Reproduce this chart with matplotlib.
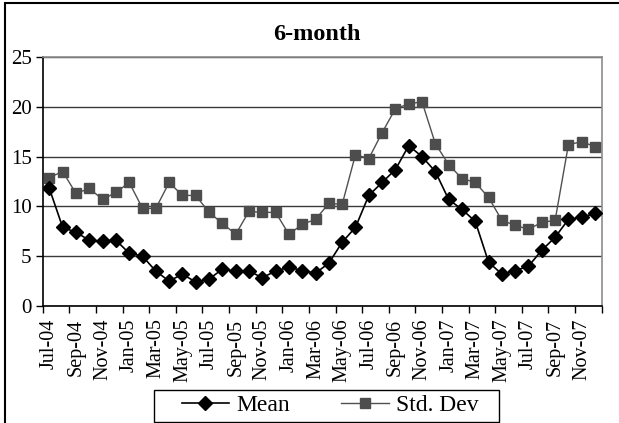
import numpy as np
import matplotlib
matplotlib.use("Agg")
import matplotlib.pyplot as plt
from matplotlib.patches import Rectangle

plt.rcParams['font.family'] = ['Liberation Serif', 'DejaVu Serif']

months = ['Jul-04', 'Aug-04', 'Sep-04', 'Oct-04', 'Nov-04', 'Dec-04',
          'Jan-05', 'Feb-05', 'Mar-05', 'Apr-05', 'May-05', 'Jun-05',
          'Jul-05', 'Aug-05', 'Sep-05', 'Oct-05', 'Nov-05', 'Dec-05',
          'Jan-06', 'Feb-06', 'Mar-06', 'Apr-06', 'May-06', 'Jun-06',
          'Jul-06', 'Aug-06', 'Sep-06', 'Oct-06', 'Nov-06', 'Dec-06',
          'Jan-07', 'Feb-07', 'Mar-07', 'Apr-07', 'May-07', 'Jun-07',
          'Jul-07', 'Aug-07', 'Sep-07', 'Oct-07', 'Nov-07', 'Dec-07']

mean = [11.8, 7.9, 7.4, 6.6, 6.5, 6.6, 5.3, 5.0, 3.5, 2.5, 3.2, 2.4,
        2.7, 3.7, 3.5, 3.5, 2.85, 3.5, 3.9, 3.55, 3.3, 4.3, 6.4, 7.9,
        11.1, 12.4, 13.7, 16.1, 15.0, 13.5, 10.7, 9.7, 8.5, 4.4, 3.2, 3.55,
        4.0, 5.6, 6.9, 8.7, 8.9, 9.3]

std = [12.9, 13.5, 11.3, 11.8, 10.7, 11.4, 12.4, 9.8, 9.8, 12.4, 11.1, 11.1,
       9.4, 8.3, 7.2, 9.5, 9.4, 9.4, 7.2, 8.2, 8.7, 10.3, 10.2, 15.2,
       14.8, 17.4, 19.8, 20.3, 20.5, 16.3, 14.2, 12.8, 12.4, 10.9, 8.6, 8.1,
       7.7, 8.4, 8.6, 16.2, 16.5, 16.0]

W, H = 619, 423
fig = plt.figure(figsize=(W / 100, H / 100), dpi=100)
ax = fig.add_axes([42.7 / W, 1 - 306 / H, (601.7 - 42.7) / W, (306 - 57) / H])

x = np.arange(len(months))
ax.plot(x, mean, color='black', lw=1.2, marker='D', ms=7.5,
        mfc='black', mec='black', label='Mean', zorder=4)
ax.plot(x, std, color='#505050', lw=1.0, marker='s', ms=7.5,
        mfc='#4d4d4d', mec='#4d4d4d', label='Std. Dev', zorder=3)

ax.set_xlim(-0.5, len(months) - 0.5)
ax.set_ylim(0, 25)
ax.set_yticks(np.arange(0, 26, 5))
ax.yaxis.grid(True, color='#3a3a3a', lw=1.0)
ax.set_axisbelow(True)

# tick marks on category boundaries, labels on every other month
ax.set_xticks(np.arange(-0.5, len(months), 2))
ax.set_xticklabels([])
ax.set_xticks(x[::2], minor=True)
ax.set_xticklabels(months[::2], minor=True, rotation=90, fontsize=14.5)
ax.tick_params(axis='x', which='major', direction='out', length=5, width=1, color='black')
ax.tick_params(axis='x', which='minor', length=0, pad=9)
ax.tick_params(axis='y', direction='out', length=5, width=1, labelsize=15, pad=3)

for side in ['left', 'bottom']:
    ax.spines[side].set_color('black')
    ax.spines[side].set_linewidth(1.2)
for side in ['top', 'right']:
    ax.spines[side].set_color('#8c8c8c')
    ax.spines[side].set_linewidth(1.2)

fig.text(316.7 / W, 1 - 35 / H, '6-month', ha='center', va='center',
         fontsize=17.5, fontweight='bold')

# legend box drawn separately (Excel style padding)
fig.patches.append(Rectangle((154 / W, 1 - 421.5 / H), (499 - 154) / W, (421.5 - 390) / H,
                             transform=fig.transFigure, facecolor='white',
                             edgecolor='black', lw=1.0, zorder=5))
leg = fig.legend(loc='center', bbox_to_anchor=(330 / W, 1 - 405.5 / H), ncol=2,
                 fontsize=17, frameon=False, handlelength=2.0,
                 columnspacing=2.2, borderpad=0.25, handletextpad=0.3)
leg.set_zorder(6)

fig.patches.append(Rectangle((5 / W, -0.1), 1.2, 1 - 3 / H + 0.1,
                             transform=fig.transFigure, fill=False,
                             edgecolor='black', lw=1.5))

fig.savefig('out.png', dpi=100)
